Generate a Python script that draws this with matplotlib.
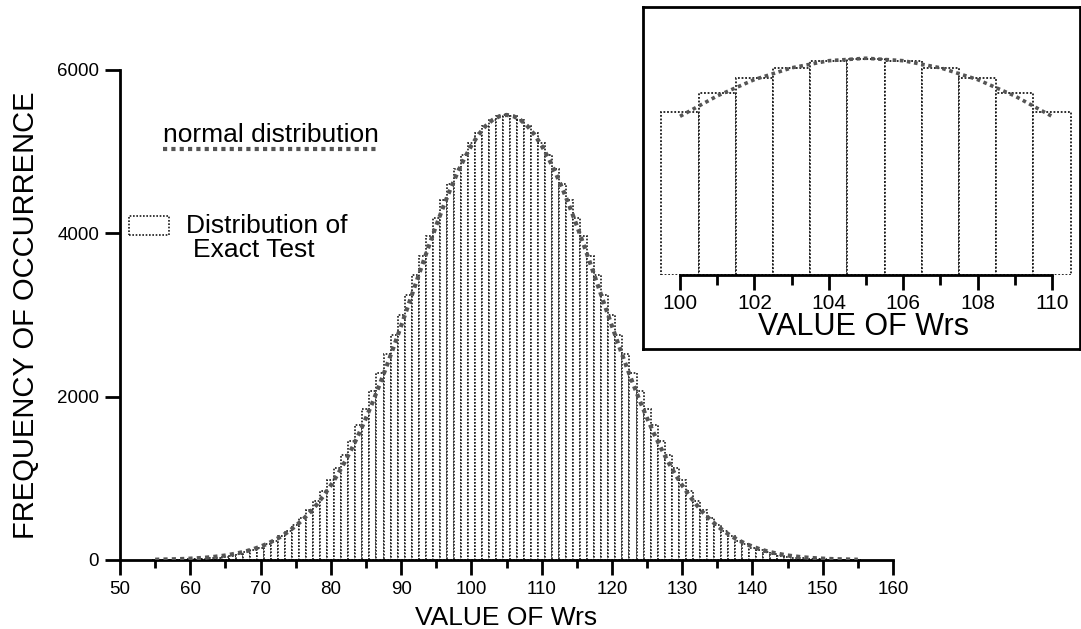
import matplotlib
matplotlib.use("Agg")
import matplotlib.pyplot as plt
from matplotlib.patches import Rectangle
from matplotlib.lines import Line2D
import numpy as np

plt.rcParams['font.family'] = ['Liberation Sans', 'DejaVu Sans']

# Wrs values 55..155 (rank sum, n = m = 10)
wrs = list(range(55, 156))

# frequency of each Wrs value (exact test)
freq = [1, 1, 2, 3, 5, 7, 11, 15, 22, 30,
        42, 54, 73, 93, 121, 152, 193, 237, 295, 357,
        430, 515, 610, 719, 840, 975, 1123, 1285, 1461, 1650,
        1851, 2064, 2287, 2518, 2756, 2998, 3243, 3487, 3728, 3964,
        4190, 4406, 4608, 4792, 4958, 5102, 5223, 5319, 5388, 5431,
        5445,
        5431, 5388, 5319, 5223, 5102, 4958, 4792, 4608, 4406, 4190,
        3964, 3728, 3487, 3243, 2998, 2756, 2518, 2287, 2064, 1851,
        1650, 1461, 1285, 1123, 975, 840, 719, 610, 515, 430,
        357, 295, 237, 193, 152, 121, 93, 73, 54, 42,
        30, 22, 15, 11, 7, 5, 3, 2, 1, 1]

# normal distribution curve at the same Wrs values
normal = [4, 6, 8, 10, 13, 17, 22, 28, 35, 45,
          56, 71, 88, 109, 134, 165, 200, 243, 292, 350,
          417, 493, 580, 679, 790, 914, 1051, 1202, 1367, 1546,
          1738, 1943, 2160, 2387, 2623, 2866, 3113, 3363, 3612, 3857,
          4096, 4324, 4539, 4738, 4917, 5074, 5206, 5312, 5388, 5434,
          5450,
          5434, 5388, 5312, 5206, 5074, 4917, 4738, 4539, 4324, 4096,
          3857, 3612, 3363, 3113, 2866, 2623, 2387, 2160, 1943, 1738,
          1546, 1367, 1202, 1051, 914, 790, 679, 580, 493, 417,
          350, 292, 243, 200, 165, 134, 109, 88, 71, 56,
          45, 35, 28, 22, 17, 13, 10, 8, 6, 4]

x_ticks = [50, 60, 70, 80, 90, 100, 110, 120, 130, 140, 150, 160]
y_ticks = [0, 2000, 4000, 6000]
inset_ticks = [100, 102, 104, 106, 108, 110]

W, H = 1081, 629
DOT = (0, (1, 1))
BAR_EDGE = '#1a1a1a'
CURVE = '#555555'


def px_axes(fig, x0, y0, x1, y1):
    # pixel box (top-left origin) -> figure axes
    return fig.add_axes([x0 / W, 1 - y1 / H, (x1 - x0) / W, (y1 - y0) / H])


def style_axis(ax, major_len, minor_len, labelsize, pad):
    for s in ['top', 'right']:
        ax.spines[s].set_visible(False)
    for s in ['left', 'bottom']:
        ax.spines[s].set_linewidth(2)
    ax.tick_params(axis='both', which='major', direction='out', length=major_len,
                   width=2, labelsize=labelsize, pad=pad)
    ax.tick_params(axis='x', which='minor', direction='out', length=minor_len, width=2)


fig = plt.figure(figsize=(W / 100, H / 100), dpi=100)

# main chart
ax = px_axes(fig, 120, 70, 893, 560)
ax.bar(wrs, freq, width=1.0, facecolor='white', edgecolor=BAR_EDGE,
       linewidth=1.2, linestyle=DOT, zorder=2)
ax.plot(wrs, normal, color=CURVE, linewidth=3, linestyle=DOT, zorder=3)
ax.set_xlim(50, 160)
ax.set_ylim(0, 6000)
ax.set_xticks(x_ticks)
ax.set_xticks([t + 5 for t in x_ticks[:-1]], minor=True)
ax.set_yticks(y_ticks)
style_axis(ax, 11, 6, 13.5, 4)
ax.set_xlabel('VALUE OF Wrs', fontsize=19, labelpad=6)
ax.set_ylabel('FREQUENCY OF OCCURRENCE', fontsize=21, labelpad=12)

# legend drawn by hand
fig.add_artist(Line2D([163 / W, 378 / W], [1 - 149 / H, 1 - 149 / H],
                      color=CURVE, linewidth=3, linestyle=DOT))
fig.text(163 / W, 1 - 142 / H, 'normal distribution', fontsize=19,
         ha='left', va='baseline')
fig.add_artist(Rectangle((129 / W, 1 - 235 / H), 40 / W, 19 / H,
                         facecolor='white', edgecolor=BAR_EDGE,
                         linewidth=1.2, linestyle=DOT))
fig.text(186 / W, 1 - 233 / H, 'Distribution of', fontsize=19,
         ha='left', va='baseline')
fig.text(193 / W, 1 - 257 / H, 'Exact Test', fontsize=19,
         ha='left', va='baseline')

# inset frame
frame = px_axes(fig, 643, 7, 1080, 349)
frame.set_xticks([])
frame.set_yticks([])
for s in frame.spines.values():
    s.set_linewidth(2)
frame.set_facecolor('white')
frame.set_zorder(5)

# inset chart: close-up of the peak
ins = px_axes(fig, 650, 12, 1078, 275)
ins.set_zorder(6)
ins.patch.set_alpha(0)
ylo = 4047
sel = [i for i, v in enumerate(wrs) if 100 <= v <= 110]
ins.bar([wrs[i] for i in sel], [freq[i] - ylo for i in sel], bottom=ylo,
        width=1.0, facecolor='white', edgecolor=BAR_EDGE, linewidth=1.3,
        linestyle=DOT, zorder=2)
ins.plot([wrs[i] for i in sel], [normal[i] for i in sel], color=CURVE,
         linewidth=2.6, linestyle=DOT, zorder=3)
ins.set_xlim(100 - 30 / 37.2, 110 + 26 / 37.2)
ins.set_ylim(ylo, ylo + 263 / 0.1545)
ins.set_xticks(inset_ticks)
ins.set_xticks([t + 1 for t in inset_ticks[:-1]], minor=True)
ins.set_yticks([])
style_axis(ins, 11, 7, 15, 3)
ins.spines['left'].set_visible(False)
ins.spines['bottom'].set_bounds(100, 110)
ins.set_xlabel('VALUE OF Wrs', fontsize=22, labelpad=-1)

fig.savefig('out.png', dpi=100)
